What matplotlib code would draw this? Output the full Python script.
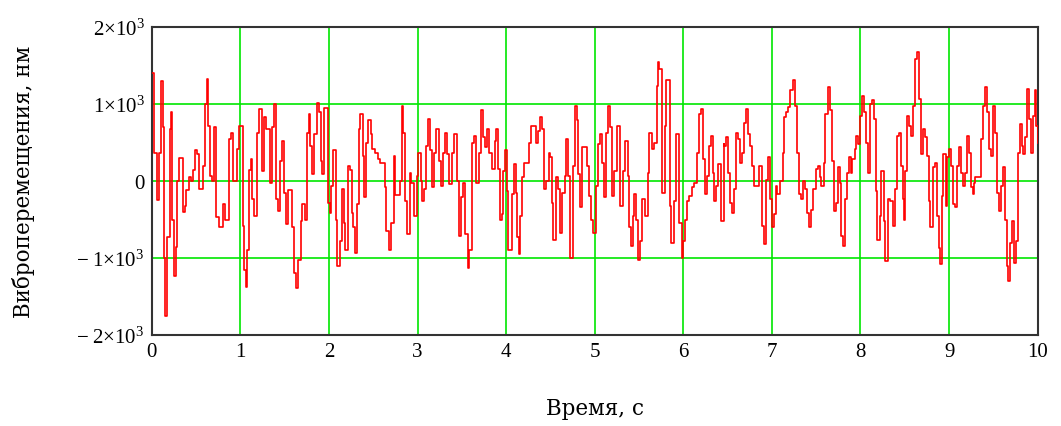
import matplotlib
matplotlib.use("Agg")
import matplotlib.pyplot as plt
import numpy as np

plt.rcParams['font.family'] = ['Liberation Serif', 'DejaVu Serif']
plt.rcParams['mathtext.fontset'] = 'custom'
plt.rcParams['mathtext.rm'] = 'Liberation Serif'
plt.rcParams['mathtext.it'] = 'Liberation Serif'

# sample-and-hold signal: breakpoints (s) and held value (nm)
t1 = [0, 0.03, 0.06, 0.085, 0.10, 0.125, 0.14, 0.155, 0.175, 0.205, 0.215, 0.23, 0.25, 0.275, 0.29,
      0.31, 0.35, 0.37, 0.39, 0.42, 0.445, 0.47, 0.49, 0.51, 0.53, 0.575, 0.60, 0.62, 0.635, 0.655,
      0.68, 0.70, 0.72, 0.73, 0.755, 0.80, 0.83, 0.87, 0.89, 0.92, 0.96, 0.985, 1.025, 1.04, 1.065,
      1.08, 1.10, 1.115, 1.13, 1.155, 1.185, 1.19, 1.215, 1.245]
v1 = [1400, 370, -250, 370, 1300, 700, -1000, -1750, -730, 680, 900, -500, -1230, -860, 0,
      300, -400, -320, -120, 50, 0, 150, 400, 350, -100, 200, 1000, 1330, 720, 70,
      0, 700, 110, -470, -600, -300, -500, 550, 630, 0, 420, 720, -580, -1150, -1370,
      -890, 150, 290, -230, -450, 50, 630, 940, 460]

t2 = [1.25, 1.27, 1.295, 1.33, 1.36, 1.385, 1.405, 1.42, 1.45, 1.475, 1.495, 1.52, 1.535, 1.585, 1.61,
      1.63, 1.655, 1.68, 1.70, 1.73, 1.75, 1.78, 1.79, 1.81, 1.835, 1.86, 1.89, 1.91, 1.92, 1.94,
      1.985, 1.995, 2.015, 2.025, 2.045, 2.075, 2.09, 2.12, 2.145, 2.165, 2.18, 2.21, 2.235, 2.255, 2.27,
      2.295, 2.315, 2.335, 2.355, 2.38, 2.40, 2.42, 2.445, 2.47, 2.49, 2.52, 2.55]
v2 = [135, 830, 680, -20, 700, 1000, -230, -390, 265, 520, -150, -560, -110, -600, -1190,
      -1390, -1020, -520, -300, -500, 630, 870, 460, 90, 610, 1020, 900, 265, 90, 950,
      440, -280, -410, -60, 400, -500, -1100, -780, -100, -540, -890, 200, 150, -410, -600,
      -930, -300, 680, 870, 330, -210, 500, 790, 610, 420, 370, 290]

t3 = [2.58, 2.635, 2.65, 2.675, 2.70, 2.73, 2.75, 2.80, 2.82, 2.84, 2.855, 2.88, 2.91, 2.93, 2.96,
      2.99, 3.005, 3.045, 3.05, 3.075, 3.095, 3.12, 3.14, 3.165, 3.185, 3.21, 3.24, 3.27, 3.29, 3.315,
      3.335, 3.36, 3.39, 3.41, 3.445, 3.465, 3.49, 3.51, 3.54, 3.565, 3.585, 3.61, 3.64, 3.66, 3.69,
      3.715, 3.735, 3.76, 3.78, 3.81, 3.84]
v3 = [240, -80, -650, -890, -540, 330, -180, 0, 980, 630, -260, -690, 110, -20, -450,
      70, 370, 0, -260, -100, 460, 810, 400, -80, 370, 680, 265, -60, 370, 630,
      350, -40, 370, 610, 0, -710, -210, -20, -690, -1130, -890, 500, 590, -20, 370,
      920, 570, 440, 680, 370, 160]

t4 = [3.87, 3.885, 3.905, 3.93, 3.95, 3.965, 3.99, 4.005, 4.02, 4.065, 4.085, 4.11, 4.125, 4.145, 4.16,
      4.185, 4.205, 4.26, 4.28, 4.335, 4.365, 4.385, 4.41, 4.43, 4.455, 4.48, 4.50, 4.515, 4.535, 4.56,
      4.585, 4.605, 4.635, 4.66, 4.68, 4.70, 4.72, 4.755, 4.78, 4.795, 4.81, 4.83, 4.86, 4.915, 4.935,
      4.96, 4.98, 5.01, 5.035, 5.055, 5.085, 5.11, 5.13, 5.15]
v4 = [520, 680, 160, -500, -430, 135, 400, -130, -900, -170, 220, -150, -730, -950, -450,
      50, 240, 500, 710, 500, 650, 830, 680, -100, 0, 370, 310, -280, -760, 50,
      -100, -670, -150, 70, 550, 70, -1000, 200, 980, 790, 90, -340, 440, 200, -190,
      -500, -670, -60, 480, 610, 240, -210, 630, 980]

t5 = [5.175, 5.19, 5.22, 5.25, 5.285, 5.325, 5.345, 5.375, 5.385, 5.415, 5.435, 5.445, 5.465, 5.49, 5.51,
      5.535, 5.565, 5.60, 5.615, 5.645, 5.675, 5.70, 5.72, 5.73, 5.76, 5.79, 5.81, 5.845, 5.865, 5.89,
      5.92, 5.955, 5.98, 6.00, 6.015, 6.04, 6.07, 6.10, 6.12, 6.15, 6.175, 6.195, 6.22, 6.24, 6.265,
      6.285, 6.31, 6.33, 6.345, 6.37, 6.39, 6.43, 6.46]
v5 = [700, -190, 135, 720, -320, 135, 520, 70, -600, -840, -450, -170, -500, -1020, -780,
      -230, -450, 110, 630, 420, 500, 1240, 1550, 1460, -150, 720, 1310, -320, -800, -260,
      610, -540, -1000, -780, -500, -260, -190, -80, -20, 370, 870, 940, 290, -170, 70,
      460, 590, 110, -260, -60, 220, -520, 480]

t6 = [6.465, 6.485, 6.51, 6.53, 6.555, 6.575, 6.60, 6.62, 6.645, 6.665, 6.69, 6.71, 6.735, 6.755, 6.78,
      6.80, 6.86, 6.885, 6.91, 6.93, 6.955, 6.975, 7.00, 7.02, 7.045, 7.06, 7.09, 7.12, 7.14, 7.165,
      7.185, 7.21, 7.24, 7.26, 7.285, 7.305, 7.33, 7.35, 7.375, 7.395, 7.42, 7.44, 7.465, 7.495, 7.515,
      7.54, 7.56, 7.585, 7.605, 7.63, 7.655, 7.675, 7.70, 7.72, 7.745]
v6 = [460, 570, 110, -280, -410, -100, 630, 550, 240, 370, 760, 940, 610, 460, 200,
      -60, 200, -580, -820, 20, 310, -230, -600, -430, -60, -170, 0, 370, 830, 900,
      960, 1180, 1310, 980, 370, -170, -230, 0, -100, -410, -600, -370, -100, 160, 200,
      50, -60, 240, 870, 1220, 920, 265, -390, -280, 180]

t7 = [7.77, 7.785, 7.80, 7.82, 7.845, 7.865, 7.89, 7.91, 7.935, 7.95, 7.97, 7.995, 8.02, 8.04, 8.065,
      8.085, 8.11, 8.13, 8.155, 8.175, 8.19, 8.215, 8.235, 8.26, 8.28, 8.31, 8.335, 8.365, 8.385, 8.41,
      8.43, 8.455, 8.475, 8.49, 8.505, 8.53, 8.55, 8.575, 8.595, 8.62, 8.64, 8.665, 8.685, 8.71, 8.73,
      8.755, 8.775, 8.79, 8.815, 8.84, 8.86, 8.885, 8.90, 8.915, 8.935, 8.96, 8.98, 9.00, 9.025, 9.05]
v7 = [-20, -710, -840, -230, 110, 310, 110, 290, 420, 590, 480, 850, 1110, 900, 500,
      110, 1000, 1050, 810, -130, -760, -450, 135, -520, -1040, -230, -260, -580, -100, 590,
      630, 200, -230, -500, 135, 850, 720, 590, 980, 1590, 1680, 1070, 350, 680, 570,
      330, -260, -600, 180, 240, -450, -870, -1080, -190, 350, -320, 310, 420, 200, -300]

t8 = [9.07, 9.095, 9.115, 9.14, 9.16, 9.185, 9.20, 9.22, 9.245, 9.265, 9.28, 9.295, 9.365, 9.385, 9.41,
      9.43, 9.455, 9.475, 9.50, 9.52, 9.545, 9.565, 9.59, 9.61, 9.635, 9.65, 9.665, 9.685, 9.71, 9.735,
      9.755, 9.78, 9.80, 9.825, 9.84, 9.86, 9.875, 9.90, 9.92, 9.945, 9.965, 9.98, 10.0]
v8 = [-340, 200, 440, 110, -60, 110, 590, 370, -80, -170, -20, 50, 550, 980, 1220,
      900, 420, 330, 980, 630, -150, -390, -60, 180, -500, -1100, -1300, -800, -520, -1060,
      -780, 370, 740, 460, 350, 570, 1200, 810, 370, 850, 1180, 720, 500]

t = np.array(t1 + t2 + t3 + t4 + t5 + t6 + t7 + t8)
v = np.array(v1 + v2 + v3 + v4 + v5 + v6 + v7 + v8)

x_ticks = [0, 1, 2, 3, 4, 5, 6, 7, 8, 9, 10]
y_ticks = [-2000, -1000, 0, 1000, 2000]
y_labels = [r"$-\;2{\times}10^{3}$", r"$-\;1{\times}10^{3}$", "0",
            r"$1{\times}10^{3}$", r"$2{\times}10^{3}$"]

fig = plt.figure(figsize=(10.61, 4.27), dpi=100)
ax = fig.add_axes([0.143, 0.213, 0.835, 0.721])

ax.plot(t, v, drawstyle='steps-post', color='#ff0000', lw=1.2, zorder=3)

ax.set_xlim(0, 10)
ax.set_ylim(-2000, 2000)
ax.set_xticks(x_ticks)
ax.set_xticklabels([str(x) for x in x_ticks])
ax.set_yticks(y_ticks)
ax.set_yticklabels(y_labels)
ax.grid(True, color='#00e600', lw=1.2, zorder=1)
ax.tick_params(length=0, labelsize=15, pad=5)
for s in ax.spines.values():
    s.set_linewidth(1.5)
    s.set_color('#333333')

ax.set_xlabel("Время, с", fontsize=15.5, family=['DejaVu Serif'], labelpad=26)
ax.set_ylabel("Виброперемещения, нм", fontsize=15.5, family=['DejaVu Serif'],
              labelpad=30)

fig.savefig("out.png", dpi=100)
